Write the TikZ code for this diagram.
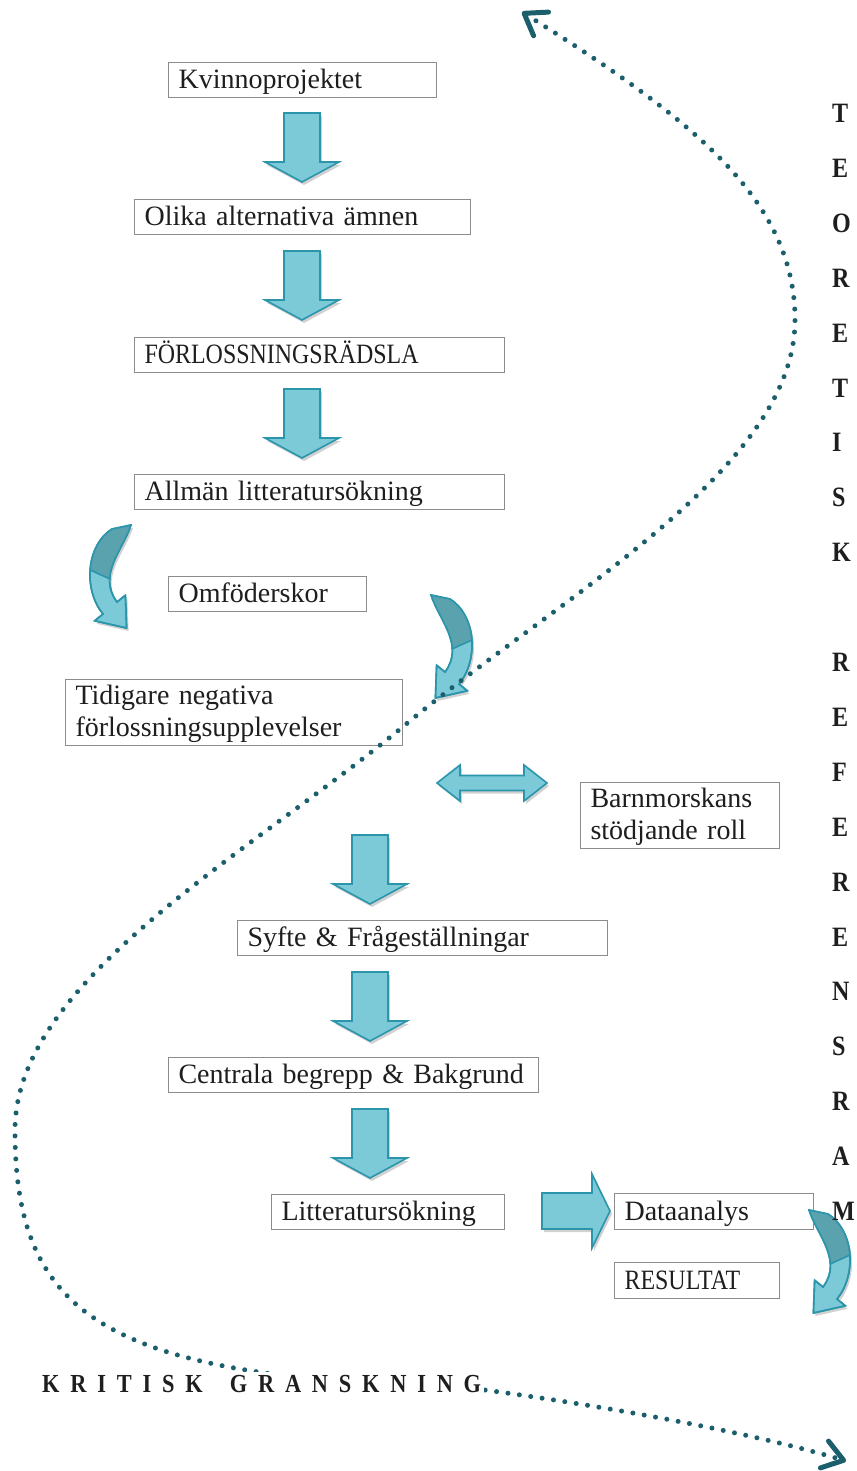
\documentclass[tikz,border=0pt]{standalone}
\usepackage{fontspec}
\setmainfont{Liberation Serif}
\newfontfamily\capsfont{Liberation Serif}[FakeStretch=0.855]
\newfontfamily\boldcaps{Liberation Serif}[FakeStretch=0.86]
\usetikzlibrary{arrows.meta,shadows,calc}
\definecolor{afill}{HTML}{7CC9D8}
\definecolor{aline}{HTML}{2B95AB}
\definecolor{adark}{HTML}{5AA2AE}
\definecolor{dotc}{HTML}{1B5E6C}
\definecolor{boxc}{HTML}{8C8C8C}
\definecolor{txtc}{HTML}{1E1E1E}
\newcommand\curvpath[1]{\path[#1] (2,-46) -- (21,-50) .. controls (13,-25) and (-13,0) .. (7,27) -- (15.4,20.2) -- (16.6,53) -- (-15.4,45.8) -- (-7,39) .. controls (-27,15) and (-24,-30) .. (2,-46) -- cycle;}
\newcommand\myls{\kern10.8pt}
\tikzset{
  boxstyle/.style={draw=boxc, line width=1.1pt, fill=white, anchor=north west,
    inner xsep=10pt, inner ysep=0pt, align=left, text=txtc,
    font=\fontsize{28}{32}\selectfont},
  oneline/.style={minimum height=35pt, text height=22pt, text depth=5pt},
  twoline/.style={minimum height=66pt},
  blockarrow/.style={fill=afill, draw=aline, line width=1.6pt, line join=miter,
    drop shadow={shadow xshift=2pt, shadow yshift=-3pt, fill=black, opacity=0.18}},
  dotline/.style={draw=dotc, line width=5pt, line cap=round,
    dash pattern=on 0pt off 11.5pt,
    >={Straight Barb[round,length=20pt,width=28pt]}, <->},
  vlet/.style={anchor=base west, inner sep=0pt,
    font=\boldcaps\bfseries\fontsize{28}{28}\selectfont, text=txtc},
  downarr/.pic={\path[blockarrow] (-18,0) -- (18,0) -- (18,49) -- (37,49) -- (0,69) -- (-37,49) -- (-18,49) -- cycle;},
  rightarr/.pic={\path[blockarrow] (0,-18) -- (50,-18) -- (50,-37) -- (68,0) -- (50,37) -- (50,18) -- (0,18) -- cycle;},
  dblarr/.pic={\path[blockarrow] (-55,0) -- (-32,-18) -- (-32,-7.5) -- (32,-7.5) -- (32,-18) -- (55,0) -- (32,18) -- (32,7.5) -- (-32,7.5) -- (-32,18) -- cycle;},
  curvarr/.pic={
    \curvpath{blockarrow}
    \begin{scope}
      \curvpath{clip}
      \path[fill=adark, draw=aline, line width=1.6pt] (-40,-80) -- (40,-80) -- (40,22) -- (-40,-14) -- cycle;
    \end{scope}
    \curvpath{draw=aline, line width=1.6pt, line join=round}
  }
}
\begin{document}
\begin{tikzpicture}[x=1pt,y=-1pt]
\useasboundingbox[fill=white] (0,0) rectangle (856,1471);

% boxes
\node[boxstyle,oneline,text width=248pt] (b1) at (168,62) {Kvinnoprojektet};
\node[boxstyle,oneline,text width=316pt] (b2) at (134,199) {Olika alternativa ämnen};
\node[boxstyle,oneline,text width=350pt] (b3) at (134,337) {\capsfont FÖRLOSSNINGSRÄDSLA};
\node[boxstyle,oneline,text width=350pt] (b4) at (134,474) {Allmän litteratursökning};
\node[boxstyle,oneline,text width=178pt] (b5) at (168,576) {Omföderskor};
\node[boxstyle,twoline,text width=317pt] (b6) at (65,679) {\rule{0pt}{22pt}Tidigare negativa\\förlossningsupplevelser\rule[-5pt]{0pt}{5pt}};
\node[boxstyle,twoline,text width=179pt] (b7) at (580,782) {\rule{0pt}{22pt}Barnmorskans\\stödjande roll\rule[-5pt]{0pt}{5pt}};
\node[boxstyle,oneline,text width=350pt] (b8) at (237,920) {Syfte \& Frågeställningar};
\node[boxstyle,oneline,text width=350pt] (b9) at (168,1057) {Centrala begrepp \& Bakgrund};
\node[boxstyle,oneline,text width=213pt] (b10) at (271,1194) {Litteratursökning};
\node[boxstyle,oneline,text width=179pt,minimum height=36pt] (b11) at (614,1193) {Dataanalys};
\node[boxstyle,oneline,text width=145pt,minimum height=36pt] (b12) at (614,1262) {\capsfont RESULTAT};

% block arrows
\pic at (302,113) {downarr};
\pic at (302,251) {downarr};
\pic at (302,389) {downarr};
\pic at (370,835) {downarr};
\pic at (370,972) {downarr};
\pic at (370,1109) {downarr};
\pic at (542,1211) {rightarr};
\pic at (492,783) {dblarr};
\pic at (110,575) {curvarr};
\pic[xscale=-1] at (452,645) {curvarr};
\pic[xscale=-1] at (830,1260) {curvarr};

% dotted curve
\coordinate (p0) at (522,12);
\coordinate (p1) at (846,1461);
\draw[dotline] (p0) .. controls (694,120) and (795,200) .. (795,320)
  .. controls (795,470) and (559,597) .. (405,725)
  .. controls (251,853) and (15,980) .. (15,1130)
  .. controls (15,1320) and (110,1378) .. (470,1388)
  .. controls (600,1405) and (750,1432) .. (p1);

% KRITISK GRANSKNING
\node[anchor=base west, fill=white, inner sep=3pt, text=txtc,
  font=\boldcaps\bfseries\fontsize{26}{26}\selectfont] (kg) at (39,1392)
  {K\myls R\myls I\myls T\myls I\myls S\myls K\myls\ \myls G\myls R\myls A\myls N\myls S\myls K\myls N\myls I\myls N\myls G};

% vertical letters
\foreach \ch [count=\i from 0] in {T,E,O,R,E,T,I,S,K}
  \node[vlet] (v\i) at ({832},{122.5+54.9*\i}) {\ch};
\foreach \ch [count=\i from 10] in {R,E,F,E,R,E,N,S,R,A,M}
  \node[vlet] (v\i) at ({832},{122.5+54.9*\i}) {\ch};
\end{tikzpicture}
\end{document}
